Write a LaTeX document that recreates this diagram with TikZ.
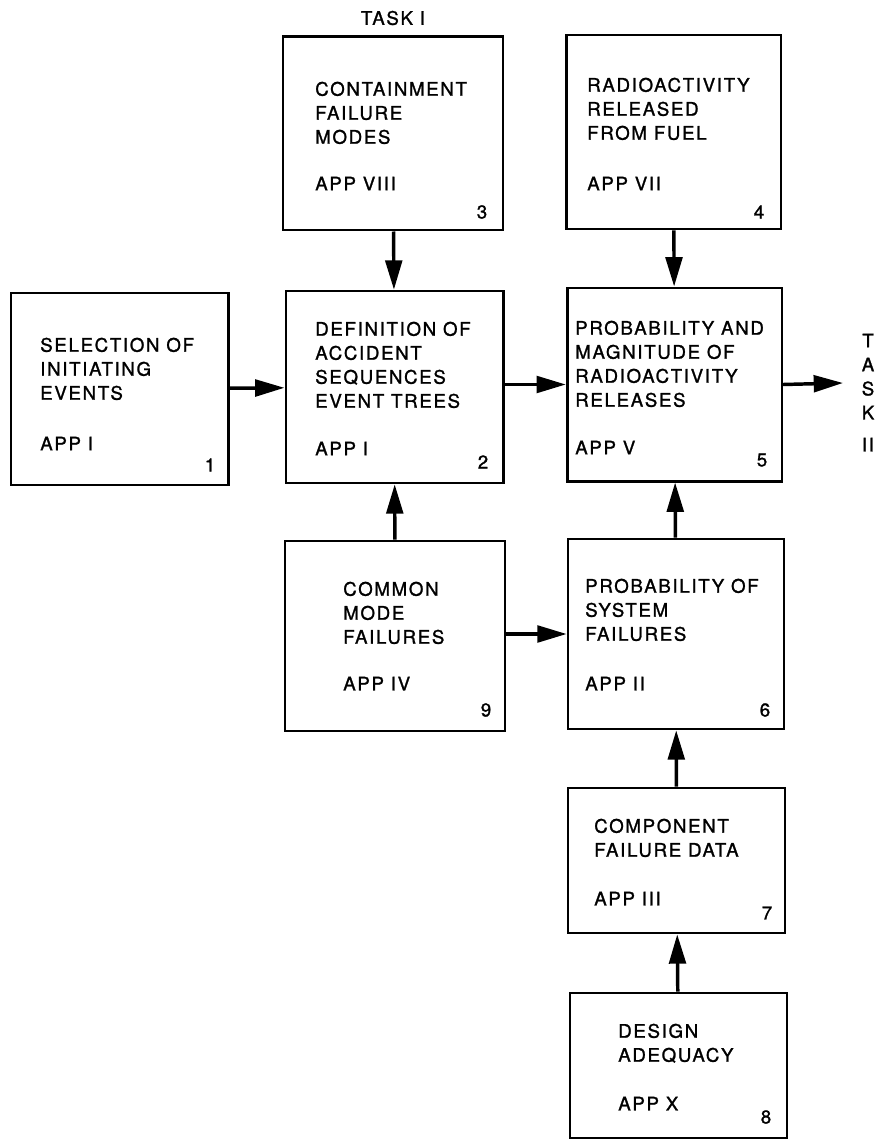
\documentclass[tikz,border=0pt]{standalone}
\usepackage{fontspec}
\setmainfont{TeX Gyre Heros}[LetterSpace=9,FakeBold=1.3]
\usetikzlibrary{arrows.meta}

\begin{document}
\begin{tikzpicture}[x=0.75pt,y=-0.75pt,
    every node/.style={inner sep=0pt,font=\fontsize{14}{18}\selectfont},
    box/.style={draw=black,line width=2pt,minimum width=163pt,minimum height=144pt},
    txt/.style={anchor=north west,align=left},
    flow/.style={draw=black,line width=2.6pt,-{Triangle[length=22pt,width=12.5pt]}}]
            \useasboundingbox (0,0) rectangle (883,1141);
            % boxes
            \node [box] (b1) at (119.5,389) {};
            \node [box] (b2) at (394.5,387) {};
            \node [box,minimum width=165pt,minimum height=145pt] (b3) at (393,133.5) {};
            \node [box,minimum width=161pt,minimum height=145.5pt] (b4) at (673.5,132) {};
            \node [box,minimum width=161pt,minimum height=145pt] (b5) at (674.5,384.5) {};
            \node [box,minimum width=165pt,minimum height=142.5pt] (b9) at (395,636) {};
            \node [box,minimum width=162pt,minimum height=142.5pt] (b6) at (676,634) {};
            \node [box,minimum width=162.75pt,minimum height=108.75pt] (b7) at (676.5,860.5) {};
            \node [box,minimum width=162.75pt,minimum height=108.75pt] (b8) at (678.5,1065.5) {};
            % texts
            \node [txt] (t1) at (40,337.5) {SELECTION OF\\INITIATING\\EVENTS};
            \node [txt] (a1) at (40,436.5) {APP I};
            \node (n1) at (210,465) {1};
            \node [txt] (t2) at (315,321.5) {DEFINITION OF\\ACCIDENT\\SEQUENCES\\EVENT TREES};
            \node [txt] (a2) at (315,441.5) {APP I};
            \node (n2) at (483,462) {2};
            \node [txt] (t3) at (315,81.5) {CONTAINMENT\\FAILURE\\MODES};
            \node [txt] (a3) at (315,176.5) {APP VIII};
            \node (n3) at (482,212) {3};
            \node [txt] (t4) at (587,77.5) {RADIOACTIVITY\\RELEASED\\FROM FUEL};
            \node [txt] (a4) at (587,176.5) {APP VII};
            \node (n4) at (759,212) {4};
            \node [txt] (t5) at (575,320.5) {PROBABILITY AND\\MAGNITUDE OF\\RADIOACTIVITY\\RELEASES};
            \node [txt] (a5) at (575,440.5) {APP V};
            \node (n5) at (762,460) {5};
            \node [txt] (t9) at (343,581.5) {COMMON\\MODE\\FAILURES};
            \node [txt] (a9) at (343,676.5) {APP IV};
            \node (n9) at (486,710) {9};
            \node [txt] (t6) at (585,578.5) {PROBABILITY OF\\SYSTEM\\FAILURES};
            \node [txt] (a6) at (585,676.5) {APP II};
            \node (n6) at (765,710) {6};
            \node [txt] (t7) at (594,818.5) {COMPONENT\\FAILURE DATA};
            \node [txt] (a7) at (594,891.5) {APP III};
            \node (n7) at (767,913) {7};
            \node [txt] (t8) at (618,1023.5) {DESIGN\\ADEQUACY};
            \node [txt] (a8) at (618,1096.5) {APP X};
            \node (n8) at (766,1117) {8};
            \node (task1) at (393,18) {TASK I};
            \node [anchor=north,align=center] (task2) at (868,333.5) {T\\A\\S\\K\\[6pt]II};
            \coordinate (out) at (843,383);
            % connectors
            \draw [flow] (b1) -- (b2);
            \draw [flow] (b3) -- (b2);
            \draw [flow] (b9) -- (b2);
            \draw [flow] (b2.east |- b5.west) -- (b5.west);
            \draw [flow] (b4) -- (b5);
            \draw [flow] (b6) -- (b5);
            \draw [flow] (b5.east) -- (out);
            \draw [flow] (b9.east |- b6.west) -- (b6.west);
            \draw [flow] (b7) -- (b6);
            \draw [flow] (b8) -- (b7);
        \end{tikzpicture}
\end{document}
